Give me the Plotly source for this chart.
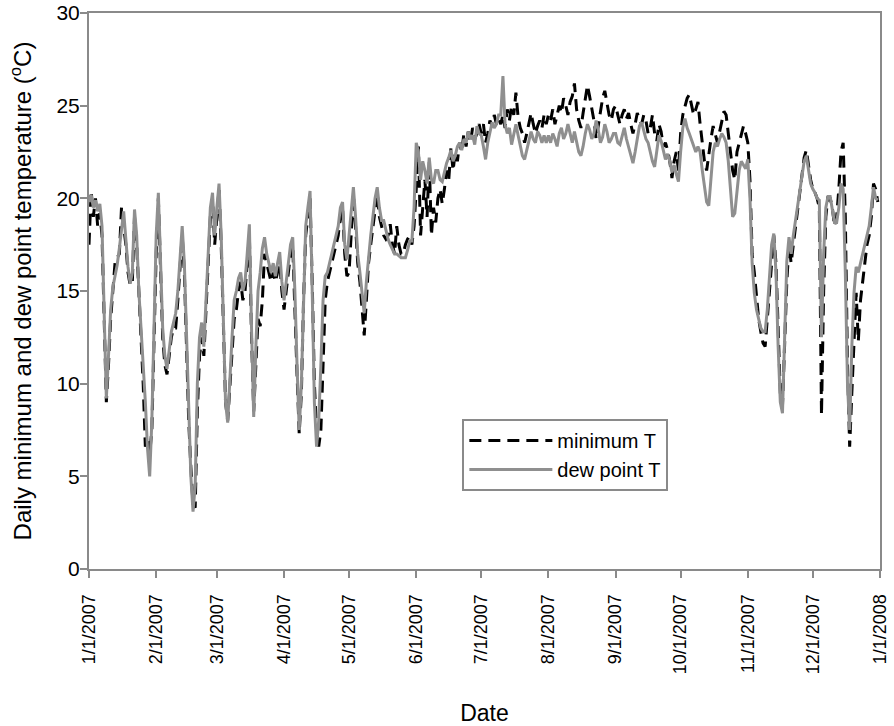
import pandas as pd
import plotly.graph_objects as go

# ---- data (daily values, 2007) ----
dew_jan = [19.8, 20.2, 19.5, 19.9, 19.3, 19.7, 18.5, 13.5, 9.2, 11.5, 14.0, 15.2, 15.8, 16.4, 17.3, 18.2,
           19.3, 17.8, 16.3, 15.4, 16.0, 19.4, 18.0, 15.0, 13.0, 11.5, 9.0, 6.5, 5.0, 8.0, 13.5]
dew_feb = [18.0, 20.3, 17.0, 13.0, 11.5, 10.8, 11.8, 12.8, 13.3, 13.8, 15.0, 17.0, 18.5, 16.5, 12.5, 8.5,
           5.0, 3.1, 4.5, 10.0, 12.5, 13.3, 12.0, 14.5, 17.0, 19.5, 20.3, 18.0]
dew_mar = [19.5, 20.8, 18.0, 13.5, 9.0, 7.9, 10.5, 12.5, 14.5, 15.0, 15.7, 16.0, 15.0, 15.5, 17.0, 18.6,
           13.0, 8.2, 12.0, 15.0, 16.0, 17.3, 17.9, 17.0, 16.5, 16.0, 16.5, 15.8, 16.5, 17.1, 15.5]
dew_apr = [14.5, 15.5, 16.5, 17.5, 17.9, 15.0, 11.0, 7.5, 10.0, 15.0, 18.5, 19.5, 20.4, 15.0, 9.0, 6.6,
           8.0, 11.0, 14.5, 15.8, 16.0, 16.5, 17.0, 17.5, 18.0, 18.5, 19.5, 19.8, 17.5, 16.7]
dew_may = [18.0, 19.5, 20.6, 19.0, 17.0, 16.0, 15.0, 13.8, 15.5, 17.0, 18.0, 19.0, 20.0, 20.6, 19.5, 18.8,
           18.8, 18.3, 17.8, 17.5, 17.2, 17.0, 17.0, 16.9, 16.8, 16.8, 16.8, 17.2, 17.7, 17.7, 19.5]
dew_jun = [23.0, 22.5, 21.0, 22.0, 21.5, 20.8, 22.2, 21.0, 20.8, 21.5, 21.5, 21.0, 20.9, 21.5, 21.9, 22.2,
           22.6, 22.0, 22.3, 22.8, 23.0, 22.6, 23.2, 23.0, 23.6, 23.2, 23.4, 22.9, 23.9, 23.5]
dew_jul = [23.4, 22.8, 22.1, 23.0, 23.5, 24.1, 23.8, 24.0, 24.5, 24.5, 26.6, 24.0, 23.5, 23.8, 22.9, 23.5,
           24.0, 23.4, 22.8, 22.3, 22.1, 22.6, 23.2, 23.6, 23.2, 23.0, 23.6, 23.4, 23.0, 23.4, 23.0]
dew_aug = [23.4, 23.0, 23.5, 23.2, 22.8, 23.5, 23.8, 23.2, 23.5, 24.0, 23.5, 23.0, 23.6, 23.0, 22.5, 22.3,
           22.8, 23.5, 24.0, 23.7, 23.2, 23.5, 24.2, 23.7, 23.0, 23.3, 24.0, 23.6, 23.0, 23.2, 23.5]
dew_sep = [23.5, 23.0, 22.9, 23.4, 23.8, 23.2, 22.8, 22.3, 21.9, 22.5, 23.3, 23.9, 24.1, 23.6, 23.2, 23.0,
           22.4, 22.0, 21.7, 22.6, 23.4, 23.1, 22.6, 22.1, 22.4, 22.0, 21.4, 21.8, 21.3, 20.9]
dew_oct = [22.5, 23.8, 24.3, 23.8, 23.5, 23.2, 22.8, 22.5, 22.8, 22.5, 21.5, 20.5, 19.8, 19.6, 21.0, 22.5,
           23.0, 22.8, 23.2, 23.5, 23.3, 23.0, 22.0, 20.5, 19.0, 19.2, 20.5, 21.5, 22.0, 21.8, 21.6]
dew_nov = [22.1, 20.0, 16.5, 14.9, 14.0, 13.5, 13.0, 12.8, 12.8, 14.0, 16.0, 17.5, 18.1, 16.0, 12.0, 9.0,
           8.4, 13.0, 16.6, 17.9, 17.0, 18.0, 18.8, 19.5, 20.5, 21.3, 22.0, 22.3, 21.5, 20.8]
dew_dec = [20.5, 20.3, 20.0, 19.9, 12.5, 17.0, 19.5, 20.1, 20.1, 19.5, 18.7, 18.7, 19.5, 20.8, 20.5, 16.0,
           10.0, 7.5, 12.0, 14.9, 16.3, 16.0, 16.5, 17.0, 17.5, 18.1, 18.5, 19.5, 20.6, 20.0, 19.9]

min_jan = [17.5, 20.4, 19.0, 20.0, 18.5, 19.2, 18.0, 13.0, 9.0, 11.0, 13.5, 15.0, 16.5, 16.8, 17.0, 19.5,
           18.5, 17.5, 16.0, 15.3, 15.5, 19.0, 17.5, 14.5, 12.5, 10.0, 6.6, 7.0, 6.2, 7.5, 13.0]
min_feb = [17.0, 20.0, 16.5, 12.5, 11.0, 10.5, 11.5, 12.5, 13.0, 13.0, 14.5, 16.5, 18.0, 16.0, 12.0, 8.0,
           5.5, 3.5, 3.3, 8.5, 11.5, 12.5, 11.5, 14.0, 16.5, 19.0, 20.0, 17.5]
min_mar = [19.0, 20.5, 17.5, 13.0, 9.0, 8.0, 10.0, 12.0, 13.5, 14.0, 15.0, 15.5, 14.5, 15.0, 16.5, 18.0,
           12.5, 8.5, 11.0, 13.5, 13.1, 14.5, 17.0, 16.5, 16.0, 15.5, 16.0, 15.5, 16.0, 16.5, 15.0]
min_apr = [14.0, 15.0, 16.0, 17.0, 17.5, 14.5, 10.5, 7.3, 9.5, 14.5, 18.0, 19.0, 20.0, 15.5, 10.0, 7.5,
           6.6, 7.5, 11.0, 14.5, 15.5, 16.0, 16.5, 17.0, 17.5, 18.0, 19.0, 19.5, 17.0, 15.8]
min_may = [16.0, 18.5, 20.2, 18.5, 16.5, 15.5, 14.0, 12.6, 14.5, 16.5, 17.5, 18.5, 19.5, 20.3, 19.0, 18.5,
           18.0, 17.8, 18.0, 18.6, 17.5, 17.0, 18.5, 17.5, 17.0, 17.0, 17.5, 17.8, 18.0, 17.5, 18.5]
min_jun = [20.5, 22.8, 18.0, 19.5, 21.0, 19.0, 22.0, 18.0, 19.5, 18.7, 20.0, 20.5, 19.7, 20.5, 21.5, 21.0,
           22.7, 21.5, 22.5, 22.0, 23.0, 22.5, 23.5, 22.8, 23.6, 23.0, 23.8, 23.2, 23.5, 24.0]
min_jul = [23.5, 24.0, 23.0, 23.5, 24.2, 23.9, 24.5, 24.0, 24.3, 24.0, 24.5, 23.8, 24.8, 24.2, 25.0, 24.5,
           25.7, 24.4, 23.8, 23.5, 23.0, 23.5, 24.0, 24.6, 24.0, 23.5, 23.9, 24.2, 23.8, 24.5, 24.0]
min_aug = [24.5, 24.2, 24.8, 24.0, 24.5, 25.0, 24.6, 25.4, 25.0, 24.5, 25.2, 25.5, 26.2, 24.8, 24.2, 23.8,
           24.6, 25.4, 26.1, 25.5, 24.8, 24.2, 23.2, 24.0, 24.8, 25.4, 25.8, 25.2, 24.5, 24.2, 24.8]
min_sep = [25.0, 24.5, 24.0, 24.5, 24.8, 24.3, 24.6, 24.0, 23.5, 24.0, 24.6, 24.3, 24.0, 24.5, 24.2, 23.5,
           23.8, 24.5, 23.5, 23.1, 24.0, 23.6, 22.8, 23.0, 22.6, 22.0, 21.1, 22.0, 22.5, 21.5]
min_oct = [23.5, 24.5, 25.0, 25.4, 25.6, 25.0, 24.5, 24.8, 25.2, 24.0, 22.9, 22.0, 21.5, 22.5, 23.2, 23.9,
           23.5, 23.0, 23.6, 24.2, 24.7, 24.5, 23.3, 22.5, 21.5, 21.0, 22.5, 23.0, 23.5, 23.9, 23.5]
min_nov = [23.0, 21.0, 17.0, 16.0, 14.5, 13.5, 12.8, 12.2, 12.0, 13.5, 15.5, 17.0, 18.0, 16.5, 12.5, 9.5,
           8.8, 12.0, 15.5, 17.5, 16.5, 17.5, 18.5, 19.5, 20.5, 21.5, 22.2, 22.6, 21.8, 21.0]
min_dec = [20.5, 20.3, 20.0, 19.5, 8.3, 15.0, 19.0, 20.1, 20.0, 19.5, 18.5, 19.0, 20.5, 22.5, 23.0, 19.0,
           11.0, 6.6, 9.5, 12.5, 14.9, 12.3, 14.5, 15.5, 16.7, 17.5, 18.0, 19.0, 20.8, 20.5, 19.8]

tick_dates = ["2007-01-01", "2007-02-01", "2007-03-01", "2007-04-01", "2007-05-01", "2007-06-01",
              "2007-07-01", "2007-08-01", "2007-09-01", "2007-10-01", "2007-11-01", "2007-12-01",
              "2008-01-01"]
tick_labels = ["1/1/2007", "2/1/2007", "3/1/2007", "4/1/2007", "5/1/2007", "6/1/2007", "7/1/2007",
               "8/1/2007", "9/1/2007", "10/1/2007", "11/1/2007", "12/1/2007", "1/1/2008"]

dew_point = (dew_jan + dew_feb + dew_mar + dew_apr + dew_may + dew_jun +
             dew_jul + dew_aug + dew_sep + dew_oct + dew_nov + dew_dec)
min_temp = (min_jan + min_feb + min_mar + min_apr + min_may + min_jun +
            min_jul + min_aug + min_sep + min_oct + min_nov + min_dec)
dates = pd.date_range("2007-01-01", periods=len(dew_point), freq="D")

FONT = "Liberation Sans, Arial, sans-serif"
AXIS_GRAY = "#8a8a8a"

fig = go.Figure()
fig.add_trace(go.Scatter(x=dates, y=min_temp, mode="lines", name="minimum T",
                         line=dict(color="black", width=3, dash="12px,7px")))
fig.add_trace(go.Scatter(x=dates, y=dew_point, mode="lines", name="dew point T",
                         line=dict(color="#8f8f8f", width=3)))

fig.update_layout(
    width=894, height=726,
    margin=dict(l=89, r=14, t=13, b=157, autoexpand=False),
    paper_bgcolor="white", plot_bgcolor="white",
    font=dict(family=FONT, size=18, color="black"),
    showlegend=True,
    legend=dict(x=0.472, y=0.205, xanchor="left", yanchor="middle",
                bgcolor="white", bordercolor=AXIS_GRAY, borderwidth=2,
                font=dict(family=FONT, size=20, color="black"),
                itemwidth=83, tracegroupgap=0),
)
fig.update_xaxes(
    type="date", range=["2007-01-01", "2008-01-01"], automargin=False,
    tickmode="array", tickvals=tick_dates, ticktext=tick_labels, tickangle=-90,
    ticks="outside", ticklen=7, tickwidth=2, tickcolor=AXIS_GRAY, ticklabelstandoff=9,
    showline=True, linecolor=AXIS_GRAY, linewidth=2, mirror=True,
    showgrid=False, zeroline=False,
    tickfont=dict(family=FONT, size=18, color="black"),
    title=dict(text="Date", font=dict(family=FONT, size=23, color="black"), standoff=32),
)
fig.update_yaxes(
    range=[0, 30], tick0=0, dtick=5, automargin=False,
    ticks="outside", ticklen=7, tickwidth=2, tickcolor=AXIS_GRAY, ticklabelstandoff=-4,
    showline=True, linecolor=AXIS_GRAY, linewidth=2, mirror=True,
    showgrid=False, zeroline=False,
    tickfont=dict(family=FONT, size=21, color="black"),
    title=dict(text="Daily minimum and dew point temperature (<sup>o</sup>C)",
               font=dict(family=FONT, size=24, color="black"), standoff=18),
)

fig.write_html("out.html")
